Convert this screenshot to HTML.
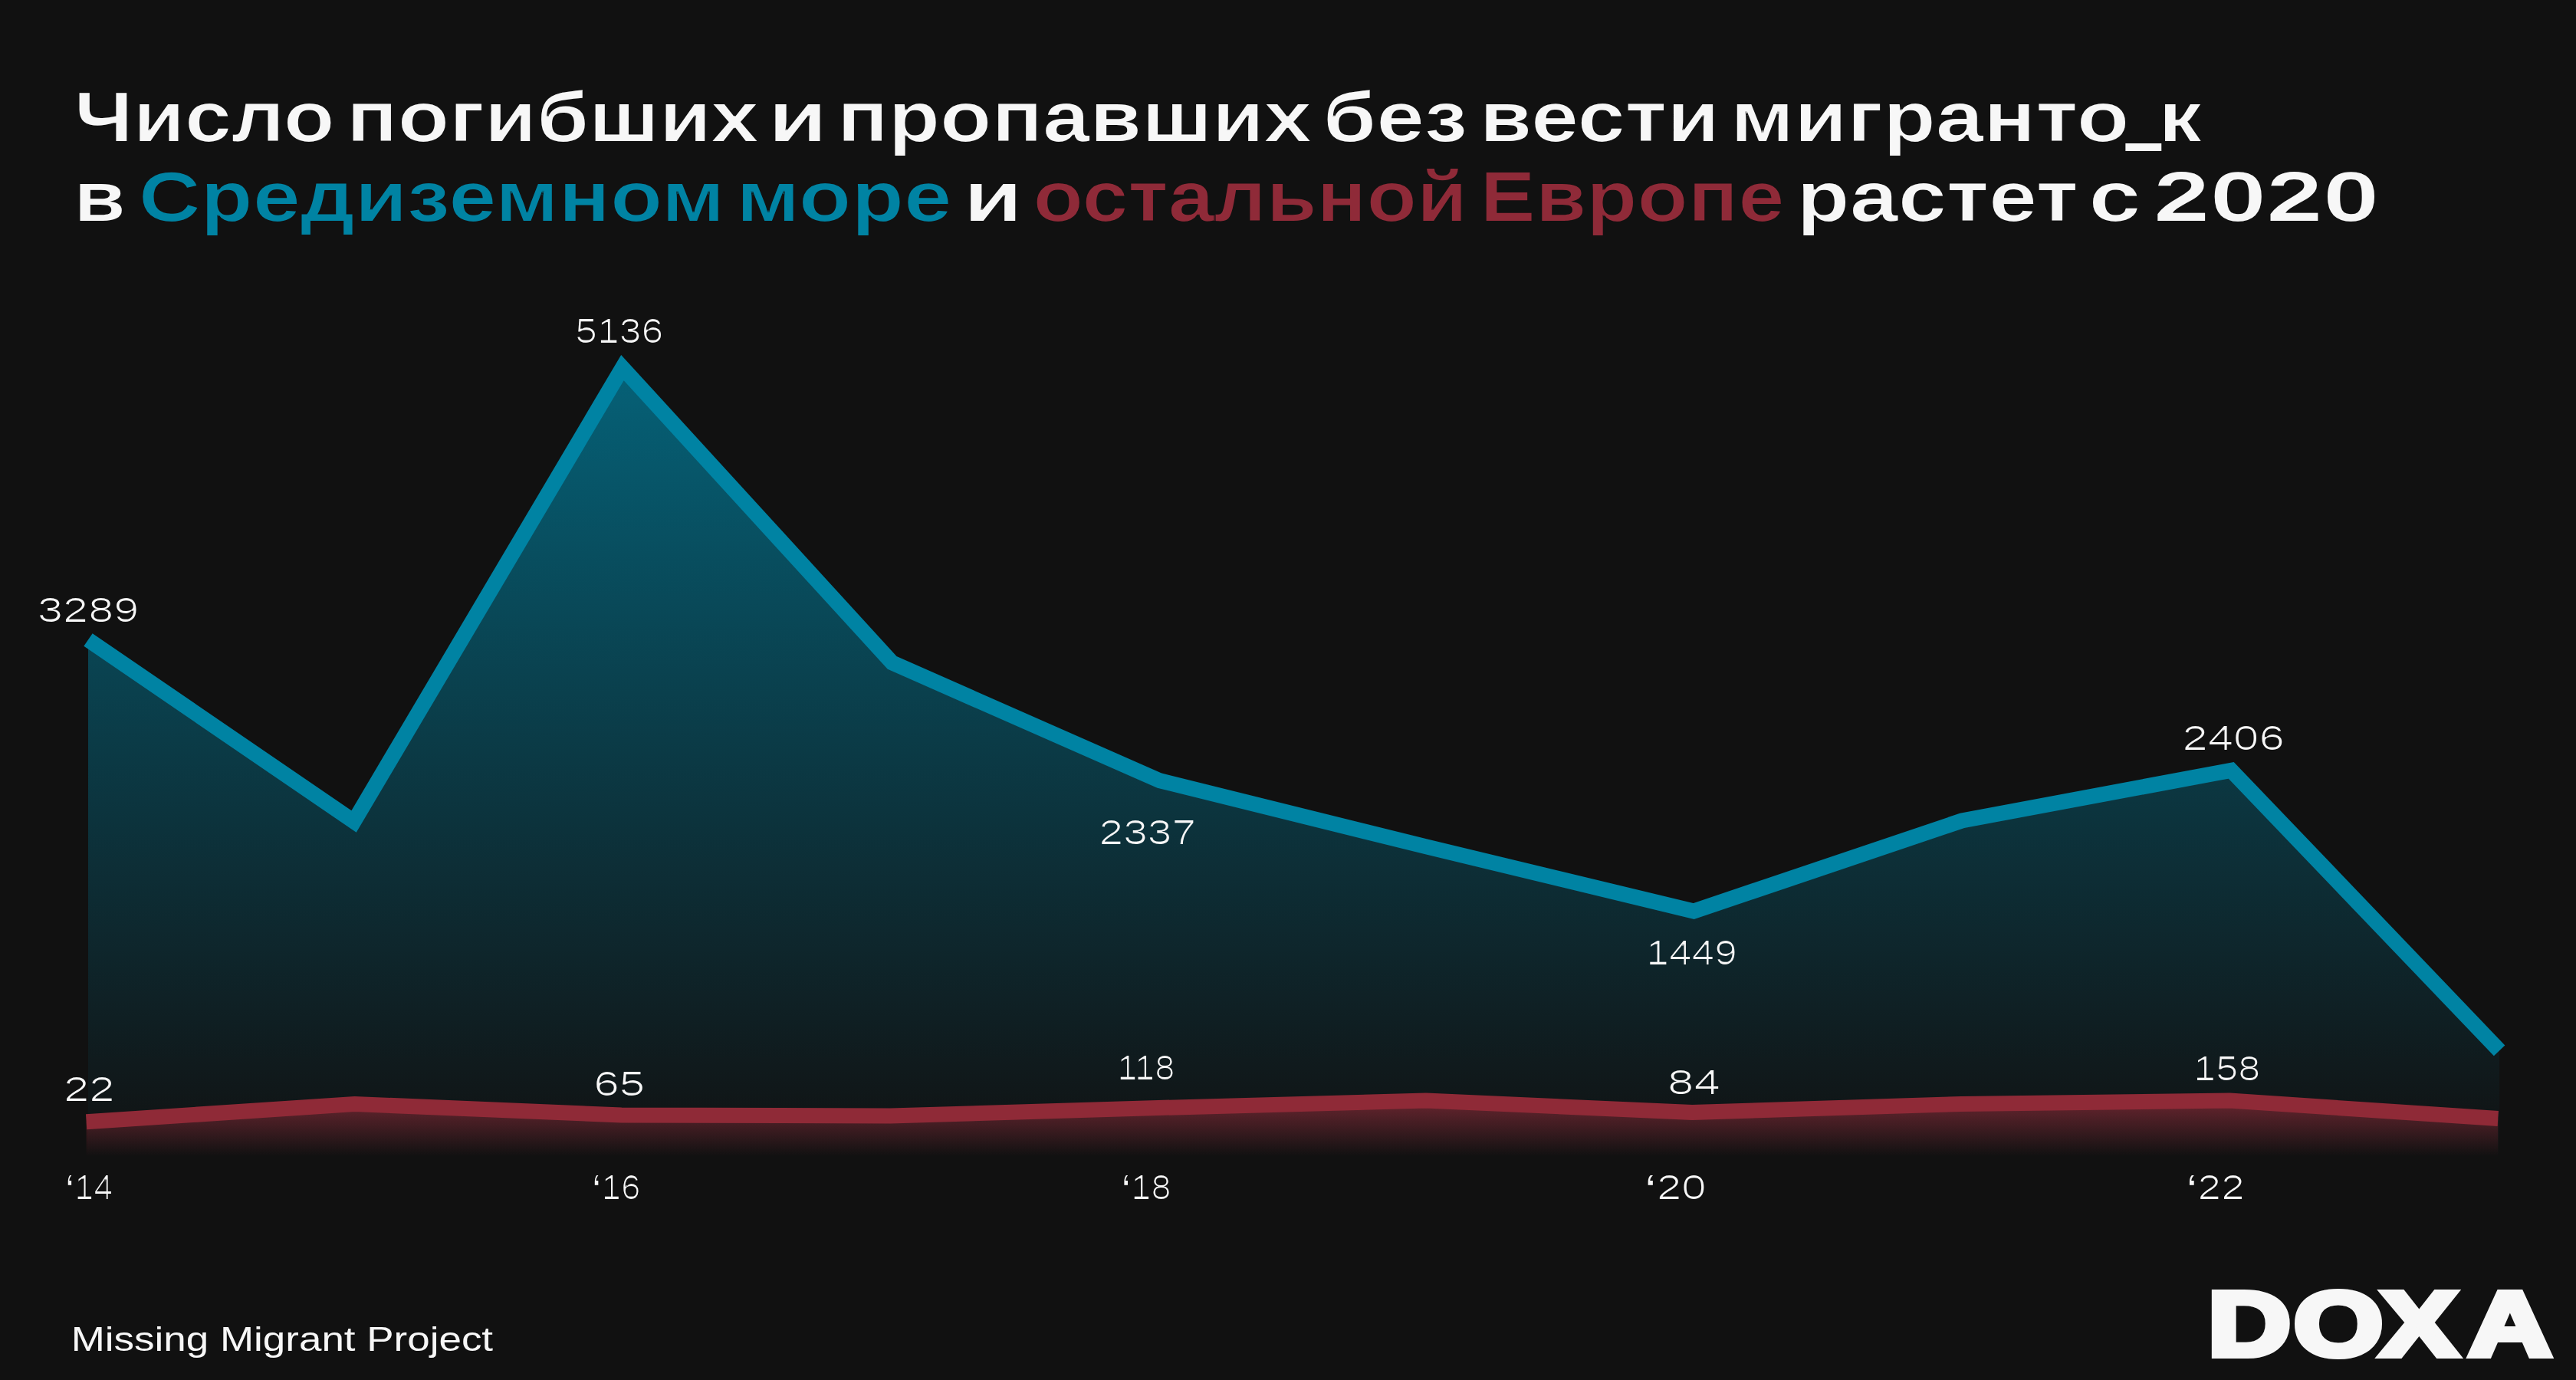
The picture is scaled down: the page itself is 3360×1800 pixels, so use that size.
<!DOCTYPE html>
<html lang="ru"><head><meta charset="utf-8"><title>Число погибших и пропавших без вести мигранто_к</title>
<style>html,body{margin:0;padding:0;background:#111111;}body{width:3360px;height:1800px;overflow:hidden;font-family:"Liberation Sans", sans-serif;}</style>
</head><body>
<svg width="3360" height="1800" viewBox="0 0 3360 1800" style="display:block;font-family:'Liberation Sans', sans-serif">
<defs>
<linearGradient id="gb" gradientUnits="userSpaceOnUse" x1="0" y1="480" x2="0" y2="1508">
<stop offset="0" stop-color="#0083a3" stop-opacity="0.7"/><stop offset="1" stop-color="#0083a3" stop-opacity="0"/></linearGradient>
<linearGradient id="gr" gradientUnits="userSpaceOnUse" x1="0" y1="1435" x2="0" y2="1508">
<stop offset="0" stop-color="#8f2a37" stop-opacity="0.7"/><stop offset="1" stop-color="#8f2a37" stop-opacity="0"/></linearGradient>
<filter id="thin" filterUnits="userSpaceOnUse" x="0" y="0" width="3360" height="1800"><feMorphology operator="erode" radius="1 0.4"/></filter>
</defs>
<rect width="3360" height="1800" fill="#111111"/>
<path d="M115.0,1508 L115.0,834.6 L461.6,1071.5 L811.9,479.6 L1163.7,864.5 L1512.8,1018.3 L1861.5,1104.6 L2209.2,1188.5 L2559.0,1070.5 L2910.2,1004.8 L3260.1,1370.3 L3260.1,1508 Z" fill="url(#gb)"/>
<polyline points="115.0,834.6 461.6,1071.5 811.9,479.6 1163.7,864.5 1512.8,1018.3 1861.5,1104.6 2209.2,1188.5 2559.0,1070.5 2910.2,1004.8 3260.1,1370.3" fill="none" stroke="#0083a3" stroke-width="20" stroke-linejoin="miter" stroke-miterlimit="10"/>
<path d="M112.6,1508 L112.6,1463.3 L462.5,1440.0 L810.5,1454.4 L1161.5,1455.6 L1510.5,1445.0 L1860.0,1435.5 L2207.2,1451.0 L2558.5,1440.0 L2908.5,1435.6 L3258.3,1459.0 L3258.3,1508 Z" fill="url(#gr)"/>
<polyline points="112.6,1463.3 462.5,1440.0 810.5,1454.4 1161.5,1455.6 1510.5,1445.0 1860.0,1435.5 2207.2,1451.0 2558.5,1440.0 2908.5,1435.6 3258.3,1459.0" fill="none" stroke="#8f2a37" stroke-width="20" stroke-linejoin="miter"/>
<g filter="url(#thin)">
<text transform="translate(96.87 184.00) scale(1.1940 1)" font-size="91.60" font-weight="bold" fill="#f7f7f7">Число</text>
<text transform="translate(452.03 184.00) scale(1.2048 1)" font-size="91.60" font-weight="bold" fill="#f7f7f7">погибших</text>
<text transform="translate(1001.70 184.00) scale(1.3738 1)" font-size="91.60" font-weight="bold" fill="#f7f7f7">и</text>
<text transform="translate(1092.04 184.00) scale(1.2042 1)" font-size="91.60" font-weight="bold" fill="#f7f7f7">пропавших</text>
<text transform="translate(1725.59 184.00) scale(1.2321 1)" font-size="91.60" font-weight="bold" fill="#f7f7f7">без</text>
<text transform="translate(1929.82 184.00) scale(1.2181 1)" font-size="91.60" font-weight="bold" fill="#f7f7f7">вести</text>
<text transform="translate(2257.01 184.00) scale(1.2276 1)" font-size="91.60" font-weight="bold" fill="#f7f7f7">мигранто<tspan x="423.64" dy="1.55" font-size="55.2" stroke="#f7f7f7" stroke-width="8">_</tspan><tspan x="454.70" dy="-1.55" font-size="91.6">к</tspan></text>
<text transform="translate(95.66 288.00) scale(1.2142 1)" font-size="91.60" font-weight="bold" fill="#f7f7f7">в</text>
<text transform="translate(180.87 288.00) scale(1.2188 1)" font-size="91.60" font-weight="bold" fill="#0083a3">Средиземном</text>
<text transform="translate(960.16 288.00) scale(1.2264 1)" font-size="91.60" font-weight="bold" fill="#0083a3">море</text>
<text transform="translate(1256.38 288.00) scale(1.3748 1)" font-size="91.60" font-weight="bold" fill="#f7f7f7">и</text>
<text transform="translate(1347.46 288.00) scale(1.1715 1)" font-size="91.60" font-weight="bold" fill="#8f2a37">остальной</text>
<text transform="translate(1930.41 288.00) scale(1.1833 1)" font-size="91.60" font-weight="bold" fill="#8f2a37">Европе</text>
<text transform="translate(2343.48 288.00) scale(1.2366 1)" font-size="91.60" font-weight="bold" fill="#f7f7f7">растет</text>
<text transform="translate(2724.22 288.00) scale(1.3349 1)" font-size="91.60" font-weight="bold" fill="#f7f7f7">с</text>
<text transform="translate(2808.79 288.00) scale(1.4461 1)" font-size="91.60" font-weight="bold" fill="#f7f7f7">2020</text>
<text transform="translate(49.05 811.00) scale(1.3362 1)" font-size="44.50" font-weight="normal" fill="#f7f7f7">3289</text>
<text transform="translate(750.21 447.00) scale(1.1637 1)" font-size="44.50" font-weight="normal" fill="#f7f7f7">5136</text>
<text transform="translate(1433.51 1101.00) scale(1.2798 1)" font-size="44.50" font-weight="normal" fill="#f7f7f7">2337</text>
<text transform="translate(2147.23 1258.00) scale(1.1989 1)" font-size="44.50" font-weight="normal" fill="#f7f7f7">1449</text>
<text transform="translate(2846.38 978.00) scale(1.3485 1)" font-size="44.50" font-weight="normal" fill="#f7f7f7">2406</text>
<text transform="translate(83.00 1436.00) scale(1.3481 1)" font-size="44.50" font-weight="normal" fill="#f7f7f7">22</text>
<text transform="translate(774.17 1429.00) scale(1.3587 1)" font-size="44.50" font-weight="normal" fill="#f7f7f7">65</text>
<text transform="translate(1457.24 1408.00) scale(1.0593 1)" font-size="44.50" font-weight="normal" fill="#f7f7f7">118</text>
<text transform="translate(2175.04 1427.00) scale(1.3923 1)" font-size="44.50" font-weight="normal" fill="#f7f7f7">84</text>
<text transform="translate(2861.08 1409.00) scale(1.1776 1)" font-size="44.50" font-weight="normal" fill="#f7f7f7">158</text>
<text transform="translate(84.85 1564.00) scale(1.0100 1)" font-size="44.50" font-weight="normal" fill="#f7f7f7"><tspan font-weight="bold">‘</tspan>14</text>
<text transform="translate(771.73 1564.00) scale(1.0303 1)" font-size="44.50" font-weight="normal" fill="#f7f7f7"><tspan font-weight="bold">‘</tspan>16</text>
<text transform="translate(1462.22 1564.00) scale(1.0553 1)" font-size="44.50" font-weight="normal" fill="#f7f7f7"><tspan font-weight="bold">‘</tspan>18</text>
<text transform="translate(2144.84 1564.00) scale(1.3064 1)" font-size="44.50" font-weight="normal" fill="#f7f7f7"><tspan font-weight="bold">‘</tspan>20</text>
<text transform="translate(2851.34 1564.00) scale(1.2344 1)" font-size="44.50" font-weight="normal" fill="#f7f7f7"><tspan font-weight="bold">‘</tspan>22</text>
</g>
<text transform="translate(92.73 1762.00) scale(1.2150 1)" font-size="43.60" font-weight="normal" fill="#f7f7f7">Missing Migrant Project</text>
<text transform="translate(0 1768.20) scale(1.2493 1)" font-size="119.5" font-weight="bold" fill="#f7f7f7" stroke="#f7f7f7" stroke-width="8.2" stroke-linejoin="miter"><tspan x="2305.29">D</tspan><tspan x="2395.00">O</tspan><tspan x="2485.82">X</tspan><tspan x="2577.39" stroke-miterlimit="2">A</tspan></text>
</svg>
</body></html>
